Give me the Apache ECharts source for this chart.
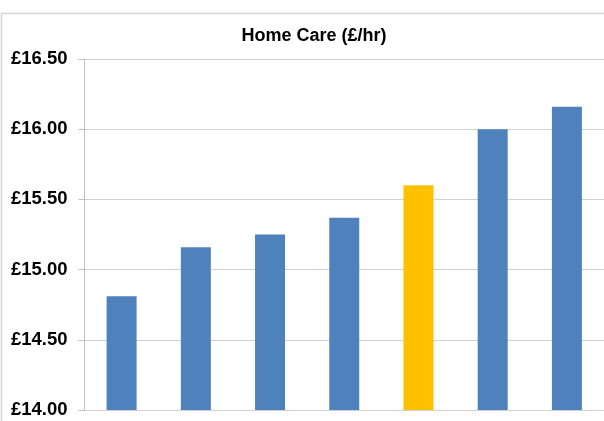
<!DOCTYPE html>
<html>
<head>
<meta charset="utf-8">
<script src="https://cdn.jsdelivr.net/npm/echarts@6/dist/echarts.min.js"></script>
<style>
  html, body { margin: 0; padding: 0; background: #ffffff; }
  #chart { width: 604px; height: 421px; }
</style>
</head>
<body>
<div id="chart"></div>
<script>
// Hourly home care rates, one bar per provider group; the highlighted one in gold
const categories = ['1', '2', '3', '4', '5', '6', '7'];
const rates = [14.81, 15.16, 15.25, 15.37, 15.60, 16.00, 16.16];
const highlightIndex = 4;
const yMin = 14.0;
const yMax = 16.5;
const yStep = 0.5;

const BLUE = '#4F81BD';
const GOLD = '#FFC000';
const GRID_GREY = '#d0d0d0';

const chart = echarts.init(document.getElementById('chart'), null, { renderer: 'canvas' });

chart.setOption({
  animation: false,
  backgroundColor: '#ffffff',
  title: {
    text: 'Home Care (£/hr)',
    left: 309,
    top: 22,
    textAlign: 'center',
    textStyle: {
      fontFamily: 'Liberation Sans, Arial, sans-serif',
      fontWeight: 'bold',
      fontSize: 18,
      color: '#000000'
    }
  },
  graphic: [{
    type: 'rect',
    silent: true,
    z: -1,
    shape: { x: 1.5, y: 13.5, width: 700, height: 500 },
    style: { fill: 'none', stroke: '#d4d4d4', lineWidth: 1.5 }
  }],
  grid: {
    left: 84.5,
    top: 59,
    width: 522,
    height: 351,
    containLabel: false
  },
  xAxis: {
    type: 'category',
    data: categories,
    axisLine: { show: true, lineStyle: { color: GRID_GREY, width: 1 } },
    axisTick: { show: false },
    axisLabel: { show: false },
    splitLine: { show: false }
  },
  yAxis: {
    type: 'value',
    min: yMin,
    max: yMax,
    interval: yStep,
    axisLine: { show: true, lineStyle: { color: '#bfbfbf', width: 1 } },
    axisTick: { show: true, inside: false, length: 6, lineStyle: { color: '#bfbfbf' } },
    splitLine: { show: true, lineStyle: { color: GRID_GREY, width: 1.2 } },
    axisLabel: {
      margin: 17,
      fontFamily: 'Liberation Sans, Arial, sans-serif',
      fontWeight: 'bold',
      fontSize: 18.5,
      color: '#000000',
      formatter: v => '£' + v.toFixed(2)
    }
  },
  series: [{
    type: 'bar',
    barWidth: 30,
    data: rates.map((v, i) => ({
      value: v,
      itemStyle: { color: i === highlightIndex ? GOLD : BLUE }
    }))
  }]
});
</script>
</body>
</html>
